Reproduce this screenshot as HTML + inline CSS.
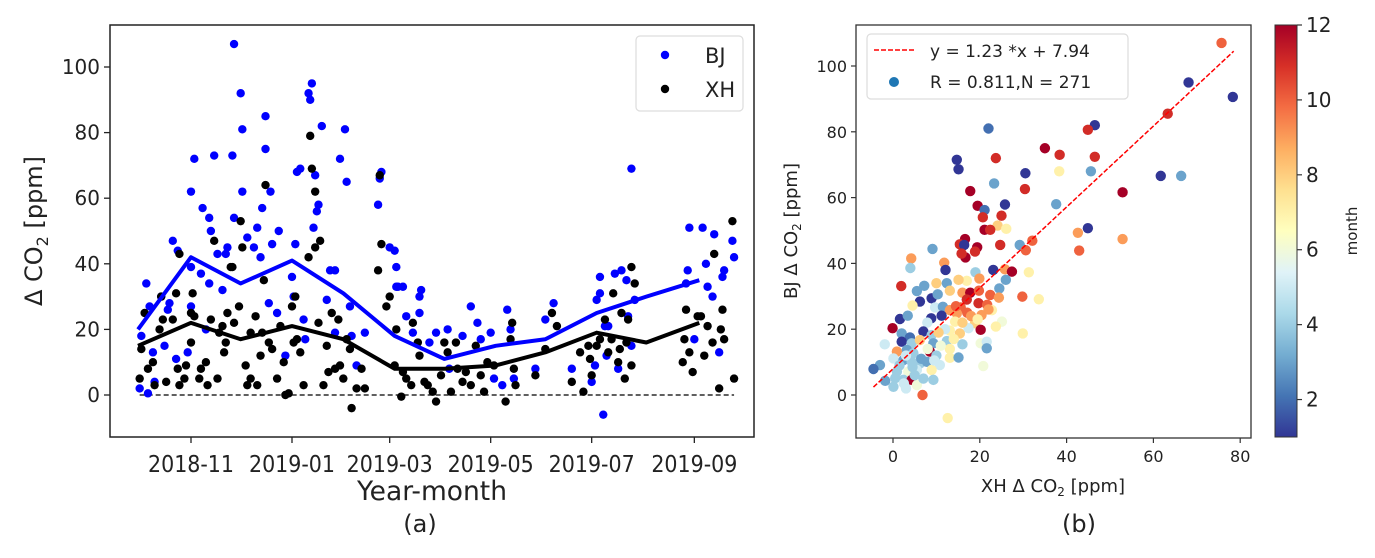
<!DOCTYPE html>
<html><head><meta charset="utf-8">
<style>
html,body{margin:0;padding:0;background:#fff;}
svg{display:block;font-family:"DejaVu Sans","Liberation Sans",sans-serif;}
</style></head>
<body>
<svg id="fig" width="1375" height="558" viewBox="0 0 1375 558" xmlns="http://www.w3.org/2000/svg">
<defs>
<linearGradient id="cmap" x1="0" y1="1" x2="0" y2="0">
<stop offset="0" stop-color="#313695"/><stop offset="0.1" stop-color="#4575b4"/><stop offset="0.2" stop-color="#74add1"/><stop offset="0.3" stop-color="#abd9e9"/><stop offset="0.4" stop-color="#e0f3f8"/><stop offset="0.5" stop-color="#ffffbf"/><stop offset="0.6" stop-color="#fee090"/><stop offset="0.7" stop-color="#fdae61"/><stop offset="0.8" stop-color="#f46d43"/><stop offset="0.9" stop-color="#d73027"/><stop offset="1" stop-color="#a50026"/>
</linearGradient>
</defs>
<g id="left"></g>
<g id="right"></g>
</svg>
<script>
// ---------- Panel (a) data: [day since 2018-10-01, ppm] ----------
const bjDays = [0,5,1,4,8,9,6,13,17,18,20,23,15,22,29,31,31,33,31,38,42,43,45,42,37,40,47,50,52,53,56,57,57,61,62,62,65,69,71,73,74,76,76,78,79,80,83,84,88,92,93,94,95,97,99,100,102,103,104,105,106,107,108,110,113,115,118,118,121,124,125,127,128,131,136,144,145,146,151,154,155,155,156,159,161,165,169,170,169,175,179,186,187,195,200,204,206,212,214,219,222,226,224,239,245,250,261,275,273,276,278,278,280,281,282,283,287,289,291,294,295,297,297,299,331,332,330,335,340,342,343,346,347,350,352,353,358,359];
const bjVals = [2,0.5,18,34,13,4,27,30,26,28,47,44,15,11,13,39,62,72,27,57,54,50,73,34,37,20,43,32,43,45,73,107,54,92,62,81,48,45,51,42,57,75,85,28,62,46,25,50,12,36,30,46,68,69,23,17,92,90,95,51,67,56,58,82,29,38,38,19,72,81,65,27,18,9,19,58,66,68,45,44,39,33,33,33,24,19,30,32,25,16,19,20,8,18,27,22,17,19,5,3,26,5,20,8,23,28,8,9,4,29,36,31,-6,21,12,21,37,8,38,35,24,69,15,29,38,51,34,17,51,40,33,30,49,13,36,38,47,42];
const xhDays = [0,1,3,5,8,9,12,13,14,16,20,22,24,23,24,27,28,31,31,32,33,36,37,40,41,43,45,47,48,50,51,52,53,55,56,57,60,61,62,64,65,67,67,70,71,73,74,75,76,78,80,83,85,87,88,90,92,93,94,95,97,99,102,103,104,106,106,108,109,111,113,114,116,118,120,121,123,125,127,128,131,134,136,144,145,146,149,151,154,155,158,159,161,164,165,168,169,172,174,177,179,182,184,186,188,191,192,195,197,200,203,206,208,210,214,221,224,225,226,227,239,245,249,252,261,266,268,271,272,273,276,278,281,283,285,286,289,290,291,293,294,295,297,297,299,328,329,330,332,334,337,339,341,343,346,347,350,351,352,353,358,359];
const xhVals = [5,14,25,8,10,3,20,30,23,4,23,31,43,8,3,5,9,16,25,31,24,5,8,10,3,23,47,5,19,21,13,16,25,39,39,22,27,53,45,9,3,5,19,24,3,12,19,35,64,16,14,5,21,10,0,0.5,27,16,30,17,13,3,42,79,69,62,45,22,47,3,15,7,25,8,23,9,5,17,14,-4,2,8,2,38,67,46,27,30,9,20,-0.5,7,5,3,22,16,12,4,3,1,-2,6,16,13,1,16,8,4,7,3,15,6,1,10,9,-2,17,22,8,3,6,14,25,21,4,13,1,15,11,6,15,17,23,13,17,31,10,14,25,5,16,23,39,9,34,10,17,26,13,7,24,24,12,21,16,43,2,20,26,17,53,5];
const bjMeanDays = [-1,31,61,92,123,154,184,215,245,276,306,338];
const bjMeanVals = [20,42,34,41,31,18,11,15,17,25,30,35];
const xhMeanDays = [-1,31,61,92,123,154,184,215,245,276,306,338];
const xhMeanVals = [15,22,17,21,17,8,8,9,13,19,16,22];
const timeTickDays = [31,92,151,212,273,335];
const timeTickLabels = ["2018-11","2019-01","2019-03","2019-05","2019-07","2019-09"];
const yTicksA = [0,20,40,60,80,100];

// ---------- Panel (b) data ----------
const scX = [75.7,68.1,78.3,63.3,22,46.5,44.9,14.7,15.1,23.7,35,38.4,46.5,38.3,30.5,45.6,23.3,61.7,66.4,17.8,30.4,52.9,37.6,25.8,19.5,21.1,20.7,25,24.1,26.1,21.1,22.4,44.9,42.6,52.9,16.6,15.4,16.4,19.4,18.9,16.7,15.8,24.7,29.2,32.1,30.6,42.9,9.1,4.2,4,11.8,12.1,23.1,25.8,27.4,19,31.3,1.9,26,19.9,17,15.1,10,12.4,7.2,5.5,8.9,10.3,13.1,16,17.8,19.8,22.4,24.5,24.4,29.8,33.6,6.2,4.5,9.7,11.5,13.1,15.6,19.7,21.7,22.8,1.6,3.4,8.8,11.2,14.7,17.1,20.4,14.3,18.9,7.9,25.1,-0.1,2,3.9,7,8.9,11.2,13.1,15.4,17.4,20.2,23.7,29.9,2,4.3,6.2,9.3,12.4,16,20.2,21.6,-1.9,0.9,3.2,4.7,8.5,13.1,21.6,-3,-4.5,0.1,2.4,4.3,6.2,7.8,10.8,13.1,15.1,20.8,0.9,3.5,5.5,8.9,-1.8,0.5,2.4,4.3,9.3,0.1,3,5.5,6.8,12.6,1.5,3,5,6.5,8,10,2.5,4.5,7,9.5,11,14,16,18,12,14.5,17,19.5,22,10.5];
const scY = [107,95,90.6,85.5,81,82,80.6,71.5,68.6,72,75,73,72.4,68,67.4,68,64.3,66.6,66.6,62,62.6,61.6,58,57.9,57.5,56.2,54,54.5,51.5,50.5,50.2,50.2,50.7,49.3,47.4,47.4,45.8,45.6,44.9,43.6,41.8,43,45.6,45.6,46.9,44,43.9,44.4,41.5,38.6,40.2,38,38,38.2,37.5,37.3,37.3,33.1,35,35.4,34.7,35,34,34,33.2,31.6,29.4,30.6,31.7,31.1,31.1,31.7,30.4,32.4,29.6,29.9,29.1,28.4,27.2,26.6,26.8,25.8,26.6,27.9,27.4,25.8,23.1,24.1,23.3,24.1,24.8,25,24.3,22.3,21.8,22,22.3,20.3,18.7,17.5,19.3,18.2,19.8,19.6,18.7,20.3,19.8,20.8,18.7,16.2,15.7,16.7,15.7,16.4,15.4,15.7,16.2,15.4,13.2,13.7,12.7,13.2,14,14.2,9.1,7.9,11.1,10.6,10.1,9.6,10.1,9.1,11.3,11.4,8.8,7.1,7.1,7.6,7.6,4.3,5.1,4.6,4.6,4.6,2.5,2,3,0,-7,9,12,6,11,14,12,3.5,8.5,5,10.5,15,17,22,24,20,27,29,23,26,19];
const scMonth = [10,1,1,11,2,1,11,1,1,11,12,11,11,7,1,3,3,1,3,12,11,12,3,1,12,2,11,11,8,7,12,11,1,9,9,12,11,1,12,11,12,11,11,3,10,10,10,3,9,4,9,1,1,9,12,4,7,11,3,9,7,8,8,3,3,3,1,3,8,9,12,10,10,3,9,10,7,1,7,5,3,9,10,11,10,7,1,3,1,1,9,10,9,7,8,5,6,12,3,2,1,4,6,7,8,5,12,7,7,1,4,8,3,4,4,6,5,5,9,3,4,12,7,3,3,2,5,3,4,4,3,5,7,3,6,4,6,5,7,3,4,4,12,4,4,5,6,10,7,4,5,4,3,6,4,5,4,4,5,6,7,8,9,5,10,11,7,9,8];
const fitSlope = 1.23, fitIntercept = 7.94, fitXRange = [-4.5, 78.5];
const xTicksB = [0,20,40,60,80];
const yTicksB = [0,20,40,60,80,100];
const cbTicks = [2,4,6,8,10,12];

const NS = "http://www.w3.org/2000/svg";
function mk(parent, tag, attrs, text){
  const e = document.createElementNS(NS, tag);
  for (const k in attrs) e.setAttribute(k, attrs[k]);
  if (text !== undefined) e.textContent = text;
  parent.appendChild(e);
  return e;
}
const L = document.getElementById('left');
const R = document.getElementById('right');

// ---- Axes (a) ----
const A = {x0:110, x1:754, y0:25, y1:437};
const ax = d => 191 + (d - 31) * 1.6557;
const ay = v => 395 - v * 3.28;

let e = mk(L,'line',{x1:ax(0),x2:ax(359),y1:ay(0),y2:ay(0),stroke:'#000','stroke-width':1.3,'stroke-dasharray':'5,3'});



bjDays.forEach((d,i)=>{
  const c = mk(L,'circle',{cx:ax(d),cy:ay(bjVals[i]),r:4.2,fill:'#0000ff'});
  
  
});
xhDays.forEach((d,i)=>{
  const c = mk(L,'circle',{cx:ax(d),cy:ay(xhVals[i]),r:4.2,fill:'#000'});
  
  
});
e = mk(L,'polyline',{points:bjMeanDays.map((d,i)=>ax(d)+','+ay(bjMeanVals[i])).join(' '),fill:'none',stroke:'#0000ff','stroke-width':4,'stroke-linejoin':'round'});


e = mk(L,'polyline',{points:xhMeanDays.map((d,i)=>ax(d)+','+ay(xhMeanVals[i])).join(' '),fill:'none',stroke:'#000','stroke-width':4,'stroke-linejoin':'round'});



e = mk(L,'rect',{x:A.x0,y:A.y0,width:A.x1-A.x0,height:A.y1-A.y0,fill:'none',stroke:'#222','stroke-width':1.5});



yTicksA.forEach(v=>{
  mk(L,'line',{x1:A.x0-6,x2:A.x0,y1:ay(v),y2:ay(v),stroke:'#222','stroke-width':1.3});
  const t = mk(L,'text',{x:A.x0-10,y:ay(v)+7,'text-anchor':'end','font-size':20,fill:'#222'},String(v));
  
  
});
timeTickDays.forEach((d,i)=>{
  mk(L,'line',{x1:ax(d),x2:ax(d),y1:A.y1,y2:A.y1+6,stroke:'#222','stroke-width':1.3});
  const t = mk(L,'text',{x:ax(d),y:472,'text-anchor':'middle','font-size':23,fill:'#222',textLength:86,lengthAdjust:'spacingAndGlyphs'},timeTickLabels[i]);
  
  
});
e = mk(L,'text',{x:432,y:500,'text-anchor':'middle','font-size':27,fill:'#222',textLength:150,lengthAdjust:'spacingAndGlyphs'},'Year-month');


e = mk(L,'text',{x:420,y:532,'text-anchor':'middle','font-size':24,fill:'#222'},'(a)');


e = mk(L,'text',{transform:'translate(42,231) rotate(-90)','text-anchor':'middle','font-size':24,fill:'#222'});


e.innerHTML = 'Δ CO<tspan font-size="16" dy="6">2</tspan><tspan dy="-6"> [ppm]</tspan>';

// legend (a)
const lg = mk(L,'g',{});


mk(lg,'rect',{x:636,y:36,width:107,height:75,rx:4,fill:'#fff','fill-opacity':0.85,stroke:'#ddd','stroke-width':1.2});
mk(lg,'circle',{cx:665,cy:55,r:4.2,fill:'#0000ff'});
e = mk(lg,'text',{x:705,y:63,'font-size':21,fill:'#222'},'BJ');


mk(lg,'circle',{cx:665,cy:89,r:4.2,fill:'#000'});
e = mk(lg,'text',{x:705,y:97,'font-size':21,fill:'#222'},'XH');



// ---- Panel (b) ----
const B = {x0:856, x1:1251, y0:25, y1:438};
const bx = v => 893 + v * 4.34;
const by = v => 395 - v * 3.29;
const stops = ['#a50026','#d73027','#f46d43','#fdae61','#fee090','#ffffbf','#e0f3f8','#abd9e9','#74add1','#4575b4','#313695'];
function hex(h){return [1,3,5].map(i=>parseInt(h.substr(i,2),16));}
function cmap(m){
  const t = 1 - (m-1)/11; let p = t*10; let i = Math.min(9, Math.floor(p)); const f = p - i;
  const a = hex(stops[i]), b = hex(stops[i+1]);
  return 'rgb('+a.map((v,k)=>Math.round(v+(b[k]-v)*f)).join(',')+')';
}
scX.forEach((x,i)=>{
  const c = mk(R,'circle',{cx:bx(x),cy:by(scY[i]),r:5.2,fill:cmap(scMonth[i])});
  
  
});
e = mk(R,'line',{x1:bx(fitXRange[0]),y1:by(fitSlope*fitXRange[0]+fitIntercept),x2:bx(fitXRange[1]),y2:by(fitSlope*fitXRange[1]+fitIntercept),stroke:'#ff0000','stroke-width':1.5,'stroke-dasharray':'5,2'});


e = mk(R,'rect',{x:B.x0,y:B.y0,width:B.x1-B.x0,height:B.y1-B.y0,fill:'none',stroke:'#333','stroke-width':1.3});


yTicksB.forEach(v=>{
  mk(R,'line',{x1:B.x0-5,x2:B.x0,y1:by(v),y2:by(v),stroke:'#333','stroke-width':1.2});
  const t = mk(R,'text',{x:B.x0-9,y:by(v)+6,'text-anchor':'end','font-size':16,fill:'#222'},String(v));
  
  
});
xTicksB.forEach(v=>{
  mk(R,'line',{x1:bx(v),x2:bx(v),y1:B.y1,y2:B.y1+5,stroke:'#333','stroke-width':1.2});
  const t = mk(R,'text',{x:bx(v),y:462,'text-anchor':'middle','font-size':16,fill:'#222'},String(v));
  
  
});
e = mk(R,'text',{x:1053,y:492,'text-anchor':'middle','font-size':18,fill:'#222'});


e.innerHTML = 'XH Δ CO<tspan font-size="12" dy="4">2</tspan><tspan dy="-4"> [ppm]</tspan>';
e = mk(R,'text',{transform:'translate(797,231) rotate(-90)','text-anchor':'middle','font-size':18,fill:'#222'});


e.innerHTML = 'BJ Δ CO<tspan font-size="12" dy="4">2</tspan><tspan dy="-4"> [ppm]</tspan>';
e = mk(R,'text',{x:1079,y:532,'text-anchor':'middle','font-size':24,fill:'#222'},'(b)');



// legend (b)
const lg2 = mk(R,'g',{});


mk(lg2,'rect',{x:867,y:34,width:261,height:65,rx:4,fill:'#fff','fill-opacity':0.85,stroke:'#ddd','stroke-width':1.2});
mk(lg2,'line',{x1:874,x2:914,y1:50,y2:50,stroke:'#ff0000','stroke-width':1.5,'stroke-dasharray':'5,2'});
e = mk(lg2,'text',{x:930,y:57,'font-size':17,fill:'#222'},'y = 1.23 *x + 7.94');


mk(lg2,'circle',{cx:894,cy:82,r:5,fill:'#1f77b4'});
e = mk(lg2,'text',{x:930,y:88,'font-size':17,fill:'#222'},'R = 0.811,N = 271');



// colorbar
const cy = m => 437 - (m-1) * (412/11);
e = mk(R,'rect',{x:1275,y:25,width:22,height:412,fill:'url(#cmap)',stroke:'#333','stroke-width':1});


cbTicks.forEach(m=>{
  mk(R,'line',{x1:1297,x2:1302,y1:cy(m),y2:cy(m),stroke:'#333','stroke-width':1.2});
  const t = mk(R,'text',{x:1306,y:cy(m)+7,'font-size':20,fill:'#222'},String(m));
  
  
});
e = mk(R,'text',{transform:'translate(1357,231) rotate(-90)','text-anchor':'middle','font-size':15,fill:'#222'},'month');


</script>
</body></html>
